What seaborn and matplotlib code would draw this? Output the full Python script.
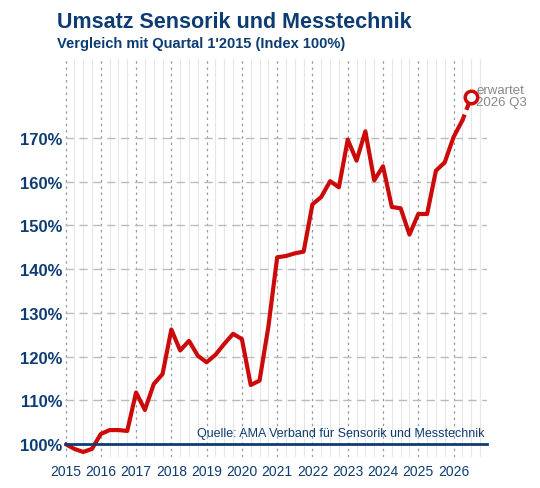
import numpy as np
import pandas as pd
import matplotlib
matplotlib.use('Agg')
import matplotlib.pyplot as plt
import matplotlib.ticker as ticker
import seaborn as sns

sns.set_style("white")
plt.rcParams['font.family'] = ['Liberation Sans', 'DejaVu Sans']

navy = '#0d3c73'
red = '#cc0a0a'

# quarterly index values, 2015 Q1 .. 2026 Q2
values = [100.0, 98.9, 98.2, 98.9,
          102.3, 103.2, 103.2, 103.0,
          111.8, 107.8, 113.7, 116.0,
          126.2, 121.4, 123.6, 120.2,
          118.7, 120.4, 122.9, 125.2,
          124.0, 113.5, 114.5, 126.8,
          142.7, 143.0, 143.6, 144.0,
          154.8, 156.5, 160.1, 158.7,
          169.6, 164.8, 171.5, 160.3,
          163.5, 154.2, 153.9, 147.9,
          152.6, 152.6, 162.5, 164.4,
          170.2, 174.0]
forecast_value = 179.3   # erwartet 2026 Q3
years = list(range(2015, 2027))
yticks = [100, 110, 120, 130, 140, 150, 160, 170]

t = [2015 + i / 4 for i in range(len(values))]
df = pd.DataFrame({'t': t, 'v': values})
t_fc = 2015 + len(values) / 4

fig = plt.figure(figsize=(5.4, 4.89), dpi=100)
ax = fig.add_axes([0.12, 0.063, 0.782, 0.814])

# grid
for q in np.arange(2015, 2027, 0.25):
    if abs(q - round(q)) < 1e-6:
        ax.axvline(q, color='#999999', lw=0.9, ls=(0, (2, 3)), zorder=1)
    else:
        ax.axvline(q, color='#e6e6e6', lw=0.8, zorder=0)
for y in yticks[1:]:
    ax.axhline(y, color='#bbbbbb', lw=1.0, ls=(0, (6, 4)), zorder=1)

sns.lineplot(data=df, x='t', y='v', ax=ax, color=red, lw=3, zorder=2)
ax.plot([t[-1], t_fc], [values[-1], forecast_value], color=red, lw=3,
        ls=(0, (1.5, 1.2)), zorder=3)
ax.plot([t_fc], [forecast_value], 'o', ms=9, mfc='white', mec=red, mew=2.5,
        zorder=4)
ax.text(t_fc + 0.15, forecast_value + 0.3, 'erwartet\n2026 Q3', color='#888888',
        fontsize=9.5, va='center', ha='left', linespacing=0.95)

ax.set_xlim(2014.98, 2026.95)
ax.set_ylim(97, 188)
ax.set_xticks(years)
ax.set_xticklabels([str(y) for y in years])
ax.xaxis.set_minor_locator(ticker.MultipleLocator(0.25))
ax.set_yticks(yticks)
ax.set_yticklabels([f'{y}%' for y in yticks])
ax.tick_params(axis='x', which='major', length=6, width=1.2, color=navy,
               labelsize=10, labelcolor=navy, pad=8)
ax.tick_params(axis='x', which='minor', length=4, width=1, color=navy)
ax.tick_params(axis='y', length=0, labelsize=12, labelcolor=navy, pad=2)
for lab in ax.get_xticklabels() + ax.get_yticklabels():
    lab.set_fontweight('bold')
for s in ['top', 'right', 'left']:
    ax.spines[s].set_visible(False)
ax.spines['bottom'].set_position(('data', 100))
ax.spines['bottom'].set_color(navy)
ax.spines['bottom'].set_linewidth(2)
ax.spines['bottom'].set_zorder(3)
ax.set_xlabel('')
ax.set_ylabel('')

ax.text(0.995, 0.045, 'Quelle: AMA Verband für Sensorik und Messtechnik',
        transform=ax.transAxes, ha='right', va='bottom', color=navy, fontsize=9)

fig.text(57 / 540, 1 - 22 / 489, 'Umsatz Sensorik und Messtechnik', color=navy,
         fontsize=15.5, fontweight='bold', va='center')
fig.text(57 / 540, 1 - 44 / 489, "Vergleich mit Quartal 1'2015 (Index 100%)",
         color=navy, fontsize=10.5, fontweight='bold', va='center')

fig.savefig('out.png', dpi=100)
